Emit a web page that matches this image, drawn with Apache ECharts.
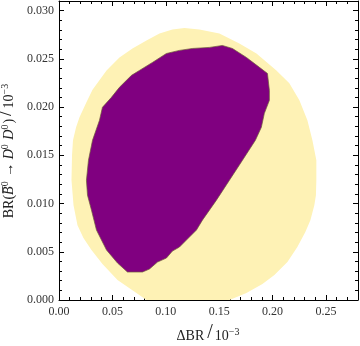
<!DOCTYPE html>
<html>
<head>
<meta charset="utf-8">
<script src="https://cdn.jsdelivr.net/npm/echarts@6/dist/echarts.min.js"></script>
<style>html,body{margin:0;padding:0;background:#fff}#c{width:360px;height:346px}</style>
</head>
<body>
<div id="c"></div>
<script>
// Outer (light yellow) allowed region boundary: ΔBR/10^-3 and BR values
var outerX = [0.0819,0.0725,0.0548,0.0407,0.0304,0.0229,0.0173,0.0136,0.0117,0.0122,0.0131,0.0160,0.0192,0.0257,0.0314,0.0445,0.0566,0.0688,0.0819,0.0941,0.1062,0.1175,0.1315,0.1502,0.1689,0.1849,0.2036,0.2157,0.2251,0.2326,0.2373,0.2410,0.2410,0.2406,0.2391,0.2354,0.2307,0.2232,0.2139,0.2017,0.1905,0.1755,0.1596];
var outerY = [0.0000,0.00072,0.00207,0.00373,0.00518,0.00642,0.00776,0.00983,0.01242,0.01501,0.01656,0.01790,0.01894,0.02050,0.02180,0.02380,0.02515,0.02608,0.02691,0.02763,0.02805,0.02820,0.02805,0.02763,0.02660,0.02556,0.02380,0.02246,0.02070,0.01863,0.01656,0.01449,0.01242,0.01087,0.00983,0.00828,0.00704,0.00549,0.00393,0.00259,0.00166,0.00072,0.0000];
// Inner (purple) region boundary
var innerX = [0.0257,0.0267,0.0304,0.0351,0.0445,0.0548,0.0641,0.0782,0.0847,0.0922,0.1006,0.1062,0.1128,0.1193,0.1287,0.1343,0.1474,0.1596,0.1718,0.1839,0.1895,0.1923,0.1970,0.1970,0.1952,0.1877,0.1755,0.1624,0.1530,0.1409,0.1250,0.1128,0.1006,0.0875,0.0753,0.0679,0.0566,0.0491,0.0407,0.0379,0.0314,0.0276];
var innerY = [0.01242,0.01087,0.00932,0.00725,0.00518,0.00383,0.00290,0.00290,0.00321,0.00393,0.00435,0.00507,0.00549,0.00621,0.00725,0.00828,0.01035,0.01242,0.01449,0.01656,0.01791,0.01935,0.02070,0.02174,0.02349,0.02412,0.02515,0.02608,0.02639,0.02619,0.02608,0.02588,0.02556,0.02463,0.02380,0.02329,0.02205,0.02101,0.01998,0.01863,0.01656,0.01449];
// Axis settings
var xMin = 0, xMax = 0.28, xMajor = 0.05, xMinor = 0.01;
var yMin = 0, yMax = 0.031, yMajor = 0.005, yMinor = 0.001;

var chart = echarts.init(document.getElementById('c'), null, {renderer: 'canvas'});
var serif = '"Liberation Serif", "DejaVu Serif", serif';
function isMult(v, step) { var r = v / step; return Math.abs(r - Math.round(r)) < 1e-6; }

var richStyles = {
  n: {fontFamily: serif, fontSize: 14, color: '#222', lineHeight: 18, verticalAlign: 'bottom'},
  i: {fontFamily: serif, fontSize: 14, fontStyle: 'italic', color: '#222', lineHeight: 18, verticalAlign: 'bottom'},
  sl: {fontFamily: serif, fontSize: 20, color: '#222', lineHeight: 18, padding: [0, 2, 0, 3], verticalAlign: 'bottom'},
  s: {fontFamily: serif, fontSize: 10, color: '#222', lineHeight: 10, verticalAlign: 'top', padding: [2, 1, 0, 0]}
};

function mkX(pos, interval, len, labels, line, name) {
  var a = {
    type: 'value', position: pos, min: xMin, max: xMax, interval: interval,
    splitLine: {show: false},
    axisLine: {show: line, onZero: false, lineStyle: {color: '#000', width: 1}},
    axisTick: {show: true, inside: true, length: len, lineStyle: {color: '#000', width: 1}},
    axisLabel: {show: labels, margin: 6, color: '#333', fontFamily: serif, fontSize: 12,
      formatter: function (v) { return isMult(v, xMajor) ? v.toFixed(2) : ''; }}
  };
  if (name) {
    a.name = '{n|ΔBR}{sl|/}{n|10}{s|−3}';
    a.nameLocation = 'middle';
    a.nameGap = 20;
    a.nameTextStyle = {fontFamily: serif, color: '#222', rich: richStyles};
  }
  return a;
}
function mkY(pos, interval, len, labels, line, name) {
  var a = {
    type: 'value', position: pos, min: yMin, max: yMax, interval: interval,
    splitLine: {show: false},
    axisLine: {show: line, onZero: false, lineStyle: {color: '#000', width: 1}},
    axisTick: {show: true, inside: true, length: len, lineStyle: {color: '#000', width: 1}},
    axisLabel: {show: labels, margin: 5, color: '#333', fontFamily: serif, fontSize: 12,
      formatter: function (v) { return isMult(v, yMajor) ? v.toFixed(3) : ''; }}
  };
  if (name) {
    a.name = '{n|BR(}{i|B̅}{s|0}{n| → }{i|D}{s|0}{n| }{i|D}{s|0}{n|)}{sl|/}{n|10}{s|−3}';
    a.nameLocation = 'middle';
    a.nameRotate = 90;
    a.nameGap = 35;
    a.nameTextStyle = {fontFamily: serif, color: '#222', rich: richStyles};
  }
  return a;
}

function polyRender(xs, ys, fill, stroke, lw) {
  return function (params, api) {
    var pts = xs.map(function (x, i) { return api.coord([x, ys[i]]); });
    return {type: 'polygon', shape: {points: pts},
      style: {fill: fill, stroke: stroke, lineWidth: lw}};
  };
}

chart.setOption({
  animation: false,
  grid: {left: 59, right: 2, top: 1, bottom: 46, containLabel: false, outerBoundsMode: 'none'},
  xAxis: [
    mkX('bottom', xMajor, 5, true, true, true),
    mkX('bottom', xMinor, 3, false, false, false),
    mkX('top', xMajor, 5, false, true, false),
    mkX('top', xMinor, 3, false, false, false)
  ],
  yAxis: [
    mkY('left', yMajor, 5, true, true, true),
    mkY('left', yMinor, 3, false, false, false),
    mkY('right', yMajor, 5, false, true, false),
    mkY('right', yMinor, 3, false, false, false)
  ],
  series: [
    {type: 'custom', xAxisIndex: 0, yAxisIndex: 0, clip: true, data: [[0, 0]], silent: true,
     renderItem: polyRender(outerX, outerY, '#FEF2B5', null, 0)},
    {type: 'custom', xAxisIndex: 0, yAxisIndex: 0, clip: true, data: [[0, 0]], silent: true,
     renderItem: polyRender(innerX, innerY, '#800080', 'rgba(110,90,60,0.7)', 1)}
  ]
});
</script>
</body>
</html>
